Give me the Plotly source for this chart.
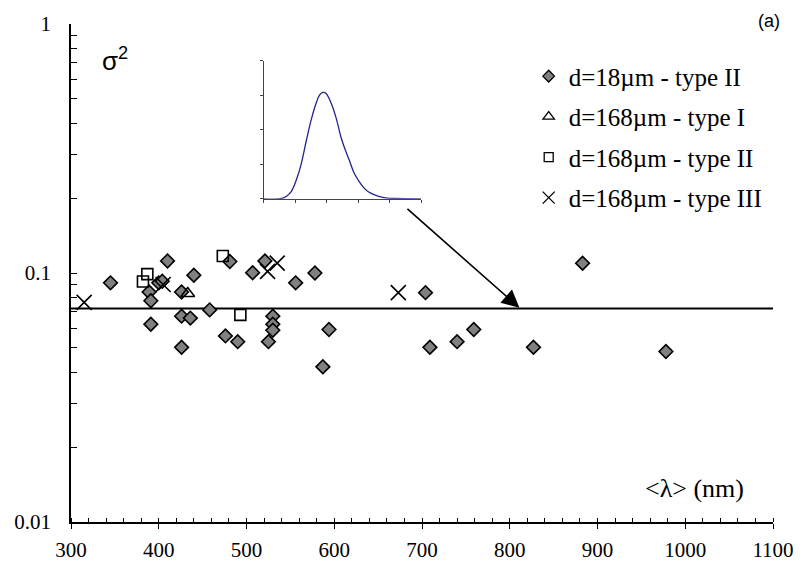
import math
import plotly.graph_objects as go

# ---- data ----
d18_x = [345, 389, 391, 391, 400, 404, 410, 426, 426, 426, 436, 440, 458, 476, 481,
         490, 507, 521, 525, 530, 530, 530, 556, 578, 587, 594, 704, 709, 740, 759,
         827, 883, 978]
d18_y = [0.0913, 0.0839, 0.0774, 0.0623, 0.0913, 0.0927, 0.1118, 0.0839, 0.0671,
         0.0503, 0.0659, 0.098, 0.0711, 0.0559, 0.1112, 0.0530, 0.1003, 0.1118,
         0.0530, 0.0671, 0.0623, 0.0589, 0.0913, 0.1000, 0.0420, 0.0593, 0.0834,
         0.0503, 0.0530, 0.0593, 0.0503, 0.1095, 0.0484]

t1_x = [433]
t1_y = [0.0827]

t2_x = [387, 382, 473, 493]
t2_y = [0.099, 0.0924, 0.117, 0.0679]

t3_x = [315, 405, 524, 535, 673]
t3_y = [0.0762, 0.0899, 0.1015, 0.1095, 0.0834]

fit_x = [300, 1100]
fit_y = [0.072, 0.072]

inset_x = [0, 0.567, 0.725, 0.882, 1.04, 1.197, 1.355, 1.513, 1.67, 1.775, 1.88,
           1.985, 2.143, 2.3, 2.458, 2.563, 2.72, 2.878, 3.036, 3.193, 3.351, 3.508,
           3.718, 3.929, 4.139, 5.0]
inset_y = [0, 0.009, 0.076, 0.217, 0.55, 1.02, 1.68, 2.29, 2.77, 3.0, 3.08, 3.05,
           2.77, 2.35, 1.78, 1.49, 1.12, 0.74, 0.50, 0.31, 0.19, 0.12, 0.057, 0.019,
           0.009, 0]

x_ticks = [300, 400, 500, 600, 700, 800, 900, 1000, 1100]
y_ticks = [0.01, 0.1, 1]
y_ticktext = ["0.01", "0.1", "1"]
y_minor = [0.02, 0.03, 0.04, 0.05, 0.06, 0.07, 0.08, 0.09,
           0.2, 0.3, 0.4, 0.5, 0.6, 0.7, 0.8, 0.9]

labels = ["d=18µm - type II", "d=168µm - type I", "d=168µm - type II", "d=168µm - type III"]

arrow_start = (681.7, 0.183)
arrow_end = (811, 0.0725)

SERIF = "Times New Roman, Liberation Serif, Tinos, DejaVu Serif, serif"
SANS = "Arial, Liberation Sans, Arimo, sans-serif"

fig = go.Figure()

fig.add_trace(go.Scatter(x=fit_x, y=fit_y, mode="lines",
                         line=dict(color="black", width=2), showlegend=False,
                         hoverinfo="skip"))

fig.add_trace(go.Scatter(x=d18_x, y=d18_y, mode="markers", showlegend=False,
                         marker=dict(symbol="diamond", size=10.5, color="#808080",
                                     line=dict(color="black", width=1.6))))
fig.add_trace(go.Scatter(x=t1_x, y=t1_y, mode="markers", showlegend=False,
                         marker=dict(symbol="triangle-up-open", size=12, color="black",
                                     line=dict(color="black", width=1.6))))
fig.add_trace(go.Scatter(x=t2_x, y=t2_y, mode="markers", showlegend=False,
                         marker=dict(symbol="square-open", size=11, color="black",
                                     line=dict(color="black", width=1.6))))
fig.add_trace(go.Scatter(x=t3_x, y=t3_y, mode="markers", showlegend=False,
                         marker=dict(symbol="x-thin-open", size=15, color="black",
                                     line=dict(color="black", width=1.6))))

# legend entries (drawn with slightly smaller symbols, as in the reference)
leg_styles = [
    dict(symbol="diamond", size=9, color="#808080", line=dict(color="black", width=1.3)),
    dict(symbol="triangle-up-open", size=10, color="black", line=dict(color="black", width=1.3)),
    dict(symbol="square-open", size=9, color="black", line=dict(color="black", width=1.3)),
    dict(symbol="x-thin-open", size=12, color="black", line=dict(color="black", width=1.3)),
]
for i, (lab, st) in enumerate(zip(labels, leg_styles)):
    fig.add_trace(go.Scatter(x=[None], y=[None], mode="markers", name=lab,
                             marker=st, legendgroup="g%d" % i, showlegend=True))

# inset curve
fig.add_trace(go.Scatter(x=inset_x, y=inset_y, mode="lines", xaxis="x2", yaxis="y2",
                         line=dict(color="#22228f", width=1.3, shape="spline"),
                         showlegend=False, hoverinfo="skip"))

fig.update_layout(
    width=806, height=574,
    margin=dict(l=71, r=27, t=21, b=45),
    paper_bgcolor="white", plot_bgcolor="white",
    font=dict(family=SERIF, size=21, color="black"),
    showlegend=True,
    legend=dict(x=0.652, y=0.941, xanchor="left", yanchor="top",
                font=dict(family=SERIF, size=25, color="black"),
                bgcolor="rgba(0,0,0,0)", tracegroupgap=5, traceorder="grouped"),
    xaxis=dict(range=[300, 1100], tickvals=x_ticks, ticks="outside", ticklen=5,
               tickcolor="black", tickwidth=1,
               tickfont=dict(family=SERIF, size=21, color="black"),
               showline=True, linecolor="black", linewidth=1.5,
               showgrid=False, zeroline=False, ticklabelstandoff=3,
               minor=dict(ticks="inside", ticklen=4, dtick=20, tickcolor="black",
                          showgrid=False)),
    xaxis3=dict(range=[300, 1100], overlaying="x", anchor="y", side="bottom",
                tickvals=x_ticks, ticks="inside", ticklen=5, tickcolor="black",
                showticklabels=False, showline=False, showgrid=False, zeroline=False),
    yaxis=dict(type="log", range=[-2, 0], tickvals=y_ticks, ticktext=y_ticktext,
               ticks="inside", ticklen=6, tickcolor="black",
               tickfont=dict(family=SERIF, size=21, color="black"),
               showline=True, linecolor="black", linewidth=1.5,
               showgrid=False, zeroline=False, ticklabelstandoff=14,
               minor=dict(ticks="inside", ticklen=6, tickvals=y_minor,
                          tickcolor="black", showgrid=False)),
    xaxis2=dict(domain=[0.2744, 0.4986], anchor="y2", range=[0, 5],
                tickvals=[0, 1, 2, 3, 4, 5], ticks="outside", ticklen=3,
                tickcolor="#444", showticklabels=False, showline=True,
                linecolor="#444", linewidth=1, showgrid=False, zeroline=False),
    yaxis2=dict(domain=[0.649, 0.9266], anchor="x2", range=[0, 4],
                tickvals=[0, 1, 2, 3, 4], ticks="outside", ticklen=3,
                tickcolor="#444", showticklabels=False, showline=True,
                linecolor="#444", linewidth=1, showgrid=False, zeroline=False),
)

fig.add_annotation(x=arrow_end[0], y=math.log10(arrow_end[1]),
                   ax=arrow_start[0], ay=math.log10(arrow_start[1]),
                   xref="x", yref="y", axref="x", ayref="y",
                   showarrow=True, arrowhead=2, arrowsize=2.2, arrowwidth=1.6,
                   arrowcolor="black", text="")

fig.add_annotation(x=(100 - 71) / 708, y=(529 - 57) / 508, xref="paper", yref="paper",
                   xanchor="left", yanchor="middle",
                   text="σ<sup>2</sup>", showarrow=False,
                   font=dict(family=SANS, size=26, color="black"))
fig.add_annotation(x=(700 - 71) / 708, y=(529 - 495) / 508, xref="paper", yref="paper",
                   xanchor="center", yanchor="middle",
                   text="&lt;λ&gt; (nm)", showarrow=False,
                   font=dict(family=SERIF, size=26, color="black"))
fig.add_annotation(x=(775 - 71) / 708, y=(529 - 18) / 508, xref="paper", yref="paper",
                   xanchor="center", yanchor="middle",
                   text="(a)", showarrow=False,
                   font=dict(family=SANS, size=18, color="black"))

fig.write_html("out.html")
